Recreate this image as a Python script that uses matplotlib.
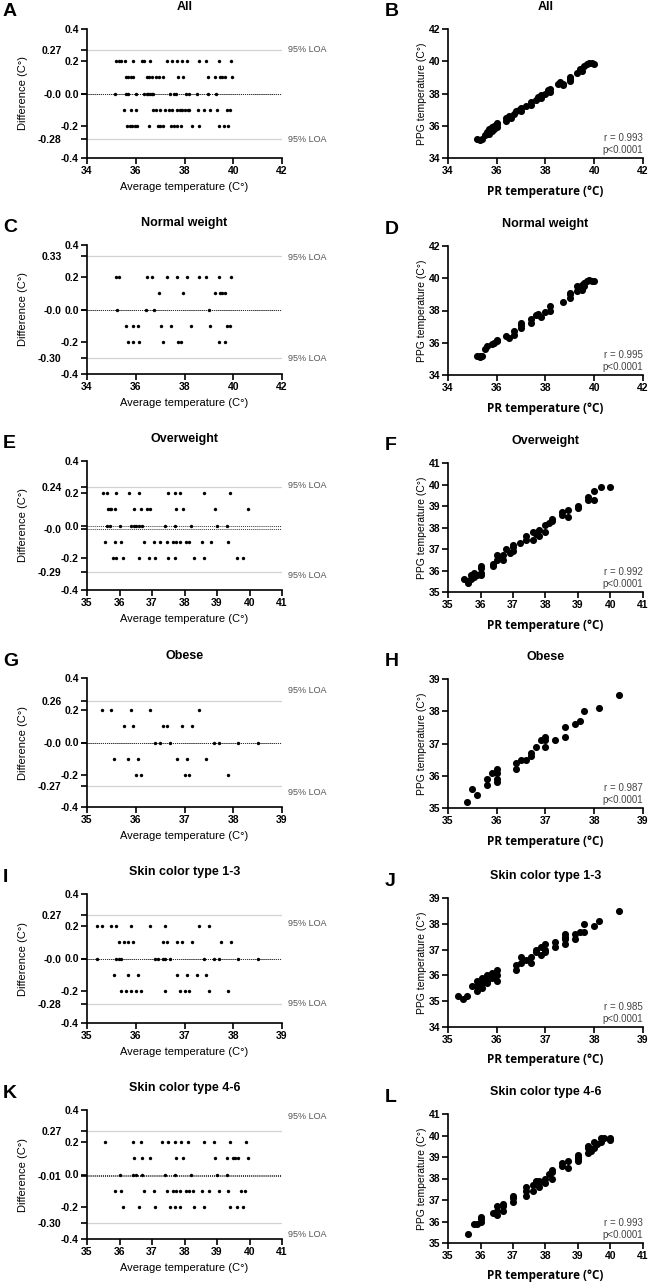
import matplotlib
matplotlib.use("Agg")
import matplotlib.pyplot as plt

plt.rcParams['font.family'] = ['Liberation Sans', 'DejaVu Sans']

W, H, DPI = 650, 1284, 100

titles = ["All", "Normal weight", "Overweight", "Obese",
          "Skin color type 1-3", "Skin color type 4-6"]
left_letters = ["A", "C", "E", "G", "I", "K"]
right_letters = ["B", "D", "F", "H", "J", "L"]

# Bland-Altman panels: average temperature of the dots on each difference row
diff_levels = [0.2, 0.1, 0.0, -0.1, -0.2]

ba_all = [
    [35.2, 35.3, 35.4, 35.55, 35.9, 36.25, 36.35, 36.6, 37.3, 37.5, 37.7, 37.9, 38.1, 38.6, 38.9, 39.4, 39.9],
    [35.6, 35.7, 35.8, 35.9, 36.45, 36.55, 36.65, 36.85, 36.95, 37.1, 37.75, 37.95, 38.95, 39.25, 39.45, 39.55, 39.65, 39.95],
    [35.15, 35.6, 35.7, 36.0, 36.35, 36.45, 36.5, 36.6, 36.65, 36.7, 37.4, 37.55, 37.65, 38.05, 38.2, 38.5, 38.95, 39.3],
    [35.5, 35.8, 36.0, 36.7, 36.85, 37.0, 37.2, 37.35, 37.5, 37.7, 37.8, 37.9, 38.0, 38.15, 38.2, 38.55, 38.8, 39.05, 39.35, 39.75, 39.85],
    [35.65, 35.75, 35.85, 35.95, 36.05, 36.55, 36.9, 37.0, 37.1, 37.45, 37.55, 37.7, 37.85, 38.3, 38.6, 39.4, 39.6, 39.8],
]
ba_normal = [
    [35.2, 35.3, 36.45, 36.65, 37.3, 37.7, 38.1, 38.6, 38.9, 39.4, 39.9],
    [36.95, 37.95, 39.25, 39.45, 39.55, 39.65],
    [35.25, 36.4, 36.75, 39.0],
    [35.6, 35.9, 36.1, 37.05, 37.45, 38.25, 39.05, 39.75, 39.85],
    [35.7, 35.9, 36.15, 37.1, 37.75, 37.85, 39.4, 39.65],
]
ba_over = [
    [35.5, 35.6, 35.9, 36.3, 36.6, 37.5, 37.7, 37.85, 38.6, 39.4],
    [35.65, 35.7, 35.75, 35.85, 36.45, 36.65, 36.85, 36.95, 37.75, 37.95, 38.95, 39.95],
    [35.6, 35.7, 36.0, 36.35, 36.45, 36.5, 36.6, 36.7, 37.4, 37.7, 38.2, 39.0, 39.3],
    [35.55, 35.85, 36.05, 36.75, 37.05, 37.25, 37.45, 37.65, 37.75, 37.85, 38.05, 38.15, 38.55, 38.8, 39.35],
    [35.8, 35.9, 36.1, 36.6, 36.9, 37.1, 37.5, 37.7, 38.3, 38.6, 39.6, 39.8],
]
ba_obese = [
    [35.3, 35.5, 35.9, 36.3, 37.3],
    [35.75, 35.95, 36.55, 36.65, 36.95, 37.15],
    [36.4, 36.5, 36.7, 37.6, 37.7, 38.1, 38.5],
    [35.55, 35.85, 36.05, 36.85, 37.05, 37.45],
    [36.0, 36.1, 37.0, 37.1, 37.9],
]
ba_skin13 = [
    [35.2, 35.3, 35.5, 35.6, 35.9, 36.3, 36.6, 37.3, 37.5],
    [35.65, 35.75, 35.85, 35.95, 36.55, 36.65, 36.85, 36.95, 37.15, 37.75, 37.95],
    [35.2, 35.6, 35.65, 35.7, 36.4, 36.45, 36.55, 36.6, 36.7, 37.4, 37.6, 37.7, 38.1, 38.5],
    [35.55, 35.85, 36.05, 36.85, 37.05, 37.25, 37.45],
    [35.7, 35.8, 35.9, 36.0, 36.1, 36.6, 36.9, 37.0, 37.1, 37.5, 37.9],
]
ba_skin46 = [
    [35.55, 36.4, 36.65, 37.3, 37.5, 37.7, 37.9, 38.1, 38.6, 38.9, 39.4, 39.9],
    [36.45, 36.7, 36.95, 37.75, 37.95, 38.95, 39.3, 39.5, 39.55, 39.65, 39.95],
    [36.0, 36.4, 36.5, 36.7, 37.4, 37.7, 38.2, 39.0, 39.3],
    [35.85, 36.05, 36.75, 37.05, 37.45, 37.65, 37.75, 37.85, 38.05, 38.15, 38.25, 38.55, 38.75, 39.05, 39.35, 39.75, 39.85],
    [36.1, 36.6, 37.1, 37.55, 37.7, 37.85, 38.3, 38.6, 39.4, 39.6, 39.8],
]
ba_data = [ba_all, ba_normal, ba_over, ba_obese, ba_skin13, ba_skin46]

loa_upper = [0.27, 0.33, 0.24, 0.26, 0.27, 0.27]
loa_lower = [-0.28, -0.30, -0.29, -0.27, -0.28, -0.30]
bias = [-0.004, -0.004, -0.02, -0.004, -0.004, -0.01]
bias_labels = ["-0.0", "-0.0", "-0.0", "-0.0", "-0.0", "-0.01"]
ba_xticks = [[34, 36, 38, 40, 42], [34, 36, 38, 40, 42], [35, 36, 37, 38, 39, 40, 41],
             [35, 36, 37, 38, 39], [35, 36, 37, 38, 39], [35, 36, 37, 38, 39, 40, 41]]
ba_yticks = [-0.4, -0.2, 0.0, 0.2, 0.4]
ba_yticklabels = ["-0.4", "-0.2", "0.0", "0.2", "0.4"]

# correlation panels: PR temperature vs PPG temperature
pr_all = [35.2, 35.3, 35.4, 35.5, 35.6, 35.6, 35.7, 35.7, 35.8, 35.8, 35.9, 35.9, 36.0, 36.0, 36.0,
          36.4, 36.4, 36.5, 36.6, 36.7, 36.8, 36.9, 37.0, 37.0, 37.2, 37.4, 37.4, 37.6, 37.7, 37.8,
          37.8, 38.0, 38.1, 38.2, 38.2, 38.5, 38.6, 38.7, 38.7, 39.0, 39.0, 39.0, 39.3, 39.4, 39.5,
          39.6, 39.7, 39.8, 40.0, 39.9]
ppg_all = [35.2, 35.1, 35.2, 35.4, 35.6, 35.5, 35.8, 35.5, 35.9, 35.7, 36.0, 35.8, 36.2, 35.9, 36.1,
           36.3, 36.5, 36.6, 36.5, 36.7, 36.9, 37.0, 37.1, 36.9, 37.2, 37.3, 37.5, 37.6, 37.8, 37.9,
           37.7, 38.0, 38.2, 38.3, 38.1, 38.6, 38.7, 38.5, 38.6, 38.9, 39.0, 38.8, 39.3, 39.5, 39.4,
           39.7, 39.8, 39.9, 39.8, 39.9]
pr_normal = [35.2, 35.3, 35.3, 35.4, 35.5, 35.6, 35.8, 35.9, 36.0, 36.0, 36.4, 36.5, 36.7, 36.7,
             37.0, 37.0, 37.0, 37.4, 37.4, 37.6, 37.7, 37.8, 38.0, 38.2, 38.2, 38.7, 39.0, 39.0,
             39.0, 39.3, 39.3, 39.4, 39.5, 39.5, 39.6, 39.6, 39.7, 39.8, 40.0, 39.9]
ppg_normal = [35.2, 35.1, 35.2, 35.2, 35.6, 35.8, 35.9, 36.0, 36.2, 36.1, 36.4, 36.3, 36.5, 36.7,
              36.9, 37.1, 37.2, 37.2, 37.5, 37.7, 37.8, 37.6, 37.9, 38.0, 38.3, 38.5, 38.8, 39.0,
              39.1, 39.2, 39.5, 39.4, 39.3, 39.6, 39.7, 39.5, 39.8, 39.9, 39.8, 39.8]
pr_over = [35.5, 35.6, 35.6, 35.7, 35.7, 35.8, 35.8, 35.9, 36.0, 36.0, 36.0, 36.0, 36.4, 36.4,
           36.5, 36.5, 36.6, 36.7, 36.7, 36.8, 36.9, 37.0, 37.0, 37.0, 37.2, 37.4, 37.4, 37.6,
           37.6, 37.7, 37.8, 37.8, 38.0, 38.0, 38.1, 38.2, 38.2, 38.5, 38.5, 38.7, 38.7, 39.0,
           39.0, 39.3, 39.3, 39.5, 39.5, 39.7, 40.0]
ppg_over = [35.6, 35.5, 35.4, 35.6, 35.8, 35.9, 35.7, 35.8, 36.1, 35.8, 36.2, 35.9, 36.3, 36.2,
            36.5, 36.7, 36.6, 36.5, 36.7, 37.0, 36.8, 36.9, 37.1, 37.2, 37.3, 37.4, 37.6, 37.4,
            37.8, 37.7, 37.9, 37.6, 37.8, 38.1, 38.2, 38.3, 38.4, 38.6, 38.7, 38.5, 38.8, 38.9,
            39.0, 39.3, 39.4, 39.3, 39.7, 39.9, 39.9]
pr_obese = [35.4, 35.5, 35.6, 35.8, 35.8, 35.9, 36.0, 36.0, 36.0, 36.0, 36.4, 36.4, 36.5, 36.6,
            36.7, 36.7, 36.8, 36.9, 37.0, 37.0, 37.0, 37.2, 37.4, 37.4, 37.6, 37.7, 37.8, 38.1, 38.5]
ppg_obese = [35.2, 35.6, 35.4, 35.9, 35.7, 36.1, 36.2, 36.1, 35.9, 35.8, 36.4, 36.2, 36.5, 36.5,
             36.6, 36.7, 36.9, 37.1, 37.2, 37.1, 36.9, 37.1, 37.5, 37.2, 37.6, 37.7, 38.0, 38.1, 38.5]
pr_skin13 = [35.2, 35.3, 35.4, 35.5, 35.6, 35.6, 35.6, 35.7, 35.7, 35.7, 35.8, 35.8, 35.8, 35.9,
             35.9, 36.0, 36.0, 36.0, 36.4, 36.4, 36.5, 36.5, 36.6, 36.7, 36.7, 36.8, 36.8, 36.9,
             36.9, 37.0, 37.0, 37.0, 37.2, 37.2, 37.4, 37.4, 37.4, 37.4, 37.6, 37.6, 37.7, 37.8,
             37.8, 38.0, 38.1, 38.5]
ppg_skin13 = [35.2, 35.1, 35.2, 35.6, 35.4, 35.8, 35.6, 35.5, 35.7, 35.9, 35.8, 36.0, 35.7, 35.9,
              36.1, 35.8, 36.0, 36.2, 36.2, 36.4, 36.5, 36.7, 36.6, 36.5, 36.7, 36.9, 37.0, 36.8,
              37.1, 36.9, 37.0, 37.2, 37.1, 37.3, 37.2, 37.4, 37.6, 37.5, 37.4, 37.6, 37.7, 37.7,
              38.0, 37.9, 38.1, 38.5]
pr_skin46 = [35.6, 35.8, 35.9, 36.0, 36.0, 36.0, 36.4, 36.5, 36.5, 36.5, 36.7, 36.7, 36.7, 37.0,
             37.0, 37.0, 37.4, 37.4, 37.4, 37.6, 37.6, 37.7, 37.7, 37.8, 37.8, 37.8, 38.0, 38.0,
             38.1, 38.2, 38.2, 38.2, 38.5, 38.5, 38.7, 38.7, 39.0, 39.0, 39.0, 39.0, 39.3, 39.3,
             39.3, 39.4, 39.5, 39.5, 39.6, 39.7, 39.7, 39.8, 40.0, 40.0]
ppg_skin46 = [35.4, 35.9, 35.9, 36.0, 36.1, 36.2, 36.4, 36.3, 36.5, 36.7, 36.5, 36.7, 36.8, 36.9,
              37.1, 37.2, 37.2, 37.4, 37.6, 37.4, 37.7, 37.8, 37.9, 37.6, 37.9, 37.8, 37.8, 38.0,
              38.2, 38.0, 38.3, 38.4, 38.6, 38.7, 38.5, 38.8, 38.8, 38.9, 39.0, 39.1, 39.2, 39.4,
              39.5, 39.3, 39.4, 39.7, 39.6, 39.7, 39.9, 39.9, 39.8, 39.9]
sc_data = [(pr_all, ppg_all), (pr_normal, ppg_normal), (pr_over, ppg_over),
           (pr_obese, ppg_obese), (pr_skin13, ppg_skin13), (pr_skin46, ppg_skin46)]
r_values = ["0.993", "0.995", "0.992", "0.987", "0.985", "0.993"]
sc_xticks = [[34, 36, 38, 40, 42], [34, 36, 38, 40, 42], [35, 36, 37, 38, 39, 40, 41],
             [35, 36, 37, 38, 39], [35, 36, 37, 38, 39], [35, 36, 37, 38, 39, 40, 41]]
sc_yticks = [[34, 36, 38, 40, 42], [34, 36, 38, 40, 42], [35, 36, 37, 38, 39, 40, 41],
             [35, 36, 37, 38, 39], [34, 35, 36, 37, 38, 39], [35, 36, 37, 38, 39, 40, 41]]

# layout (pixels)
left_x, right_x, ax_w, ax_h = 87, 448, 195, 129
left_tops = [29, 245, 461, 678, 894, 1110]
right_tops = [29, 246, 463, 679, 898, 1114]
loa_text_hi = [0.27, 0.325, 0.245, 0.32, 0.215, 0.36]
loa_text_lo = [-0.285, -0.305, -0.31, -0.31, -0.28, -0.37]

fig = plt.figure(figsize=(W / DPI, H / DPI), dpi=DPI)


def make_axes(x, top):
    ax = fig.add_axes([x / W, 1 - (top + ax_h) / H, ax_w / W, ax_h / H])
    for s in ["top", "right"]:
        ax.spines[s].set_visible(False)
    for s in ["left", "bottom"]:
        ax.spines[s].set_linewidth(1.2)
    ax.tick_params(which="major", length=4.3, width=1.2, pad=1.5, labelsize=7.5)
    return ax


def bold_ticks(ax):
    for lab in (ax.get_xticklabels() + ax.get_yticklabels()
                + ax.get_yticklabels(minor=True)):
        lab.set_fontweight("bold")


def add_title(ax, top, text, letter, letter_x):
    ax.text(0.5, 1 + 22 / ax_h, text, transform=ax.transAxes, ha="center", va="center",
            fontsize=9, fontweight="bold")
    fig.text(letter_x / W, 1 - (top - 17) / H, letter, fontsize=14, fontweight="bold",
             ha="left", va="center")


for i in range(6):
    # Bland-Altman
    ax = make_axes(left_x, left_tops[i])
    for d, xs in zip(diff_levels, ba_data[i]):
        ax.scatter(xs, [d] * len(xs), s=6, color="black", lw=0, zorder=3, clip_on=False)
    ax.axhline(loa_upper[i], color="#d2d2d2", lw=0.9, zorder=1)
    ax.axhline(loa_lower[i], color="#d2d2d2", lw=0.9, zorder=1)
    ax.axhline(0, color="#333333", lw=0.7, ls=(0, (1, 1)), zorder=2)
    ax.axhline(bias[i], color="#333333", lw=0.7, ls=(0, (1, 1)), zorder=2)
    xt = ba_xticks[i]
    ax.set_xlim(xt[0], xt[-1])
    ax.set_ylim(-0.4, 0.4)
    ax.set_xticks(xt, [str(v) for v in xt])
    ax.set_yticks(ba_yticks, ba_yticklabels)
    ax.set_yticks([loa_upper[i], bias[i], loa_lower[i]],
                  ["%.2f" % loa_upper[i], bias_labels[i], "%.2f" % loa_lower[i]],
                  minor=True)
    ax.tick_params(axis="y", which="minor", length=4.3, width=1.2, pad=14, labelsize=7.5)
    ax.tick_params(axis="x", which="minor", length=0)
    bold_ticks(ax)
    ax.set_xlabel("Average temperature (C°)", fontsize=8)
    ax.xaxis.set_label_coords(0.5, -29 / ax_h)
    ax.xaxis.label.set_va("center")
    ax.set_ylabel("Difference (C°)", fontsize=8)
    ax.yaxis.set_label_coords(-64 / ax_w, 0.5)
    ax.yaxis.label.set_va("center")
    tr = ax.get_yaxis_transform()
    ax.text(1 + 6 / ax_w, loa_text_hi[i], "95% LOA", transform=tr, ha="left", va="center",
            fontsize=6.5, color="#555555")
    ax.text(1 + 6 / ax_w, loa_text_lo[i], "95% LOA", transform=tr, ha="left", va="center",
            fontsize=6.5, color="#555555")
    add_title(ax, left_tops[i], titles[i], left_letters[i], 3)

    # correlation
    ax = make_axes(right_x, right_tops[i])
    pr, ppg = sc_data[i]
    ax.scatter(pr, ppg, s=26, color="black", lw=0, zorder=3, clip_on=False)
    xt, yt = sc_xticks[i], sc_yticks[i]
    ax.set_xlim(xt[0], xt[-1])
    ax.set_ylim(yt[0], yt[-1])
    ax.set_xticks(xt, [str(v) for v in xt])
    ax.set_yticks(yt, [str(v) for v in yt])
    bold_ticks(ax)
    ax.set_xlabel("PR temperature (°C)", fontsize=8.5, fontweight="bold",
                  family=["Open Sans", "DejaVu Sans"])
    ax.xaxis.set_label_coords(0.5, -33 / ax_h)
    ax.xaxis.label.set_va("center")
    ax.set_ylabel("PPG temperature (C°)", fontsize=7.5)
    ax.yaxis.set_label_coords(-26 / ax_w, 0.5)
    ax.yaxis.label.set_va("center")
    ax.text(1.0, 0.02, "r = %s\np<0.0001" % r_values[i], transform=ax.transAxes,
            ha="right", va="bottom", fontsize=7, color="#444444", linespacing=1.35)
    add_title(ax, right_tops[i], titles[i], right_letters[i], 385)

fig.savefig("out.png", dpi=DPI)
